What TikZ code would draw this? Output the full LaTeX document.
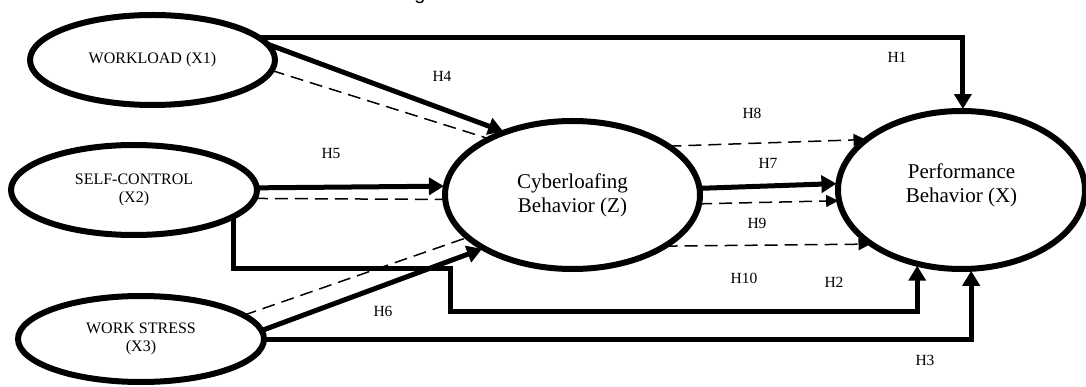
\documentclass[tikz,border=0pt]{standalone}
\usepackage{fontspec}
\setmainfont{Liberation Serif}
\newfontfamily\captionsans{Liberation Sans}
\usetikzlibrary{shapes.geometric,arrows.meta}
\begin{document}
\begin{tikzpicture}[x=1pt,y=-1pt,
  construct/.style={ellipse, draw, line width=6pt, inner sep=0pt, outer sep=0pt, align=center},
  small/.style={font=\fontsize{16}{18}\selectfont},
  big/.style={font=\fontsize{21}{24}\selectfont},
  thickpath/.style={line width=5pt},
  direct/.style={thickpath, shorten >=2pt, -{Triangle[length=15pt,width=17pt]}},
  indirect/.style={line width=1.5pt, dash pattern=on 13pt off 7pt},
  indirectarrow/.style={indirect, shorten >=1pt, -{Triangle[length=12pt,width=12pt]}},
  hyp/.style={font=\fontsize{15.5}{17}\selectfont, inner sep=0pt}
]
\useasboundingbox (0,0) rectangle (1086,387);

% caption descender peeking in at the top edge
\node[anchor=base, inner sep=0pt, font=\captionsans\fontsize{20}{22}\selectfont] (cap) at (420,0) {g};

% constructs
\node[construct, small, minimum width=245pt, minimum height=90pt] (wl) at (152.5,60) {WORKLOAD (X1)};
\node[construct, small, minimum width=246pt, minimum height=90pt] (sc) at (134,190) {SELF-CONTROL\\(X2)};
\node[construct, small, minimum width=246pt, minimum height=86pt] (ws) at (141,339) {WORK STRESS\\(X3)};
\node[construct, big, minimum width=255pt, minimum height=148pt] (cy) at (572.5,195) {Cyberloafing\\Behavior (Z)};
\node[construct, minimum width=247pt, minimum height=158pt,
      label={[name=pftext, big, align=center, yshift=5pt]center:{Performance\\Behavior (X)}}] (pf) at (961.5,190) {};

% direct effects
\draw[direct] (wl.12.9) -| (pf.89);
\draw[direct] (wl.8) -- (cy.137);
\draw[direct] (sc.1.4) -- (cy.176.4);
\draw[direct] (ws.4.3) -- (cy.-149.2);
\draw[direct] (ws.east) -| (pf.-83.2);
\draw[direct] (cy.3.6) -- (pf.177.2);

\coordinate (h2a) at (450,268);
\coordinate (h2b) at (pf.-121 |- 0,311);
\draw[direct] (sc.-15.4) |- (h2a) |- (h2b) -- (pf.-121);

% mediated paths
\draw[indirect] (wl.-5.9) -- (cy.146.5);
\draw[indirect] (sc.-4.25) -- (cy.-178.2);
\draw[indirect] (ws.13.5) -- (cy.-158.2);
\draw[indirectarrow] (cy.27.4) -- (pf.152.7);
\draw[indirectarrow] (cy.-4.5) -- (pf.-175.8);
\draw[indirectarrow] (cy.-29.1) -- (pf.-149.6);

% hypothesis labels
\node[hyp] (l1) at (897,57) {H1};
\node[hyp] (l4) at (442,76) {H4};
\node[hyp] (l5) at (331,154) {H5};
\node[hyp] (l8) at (752,113) {H8};
\node[hyp] (l7) at (768,163) {H7};
\node[hyp] (l9) at (757,223) {H9};
\node[hyp] (l10) at (744,278) {H10};
\node[hyp] (l2) at (834,282) {H2};
\node[hyp] (l6) at (383,311) {H6};
\node[hyp] (l3) at (925,360) {H3};
\end{tikzpicture}
\end{document}
